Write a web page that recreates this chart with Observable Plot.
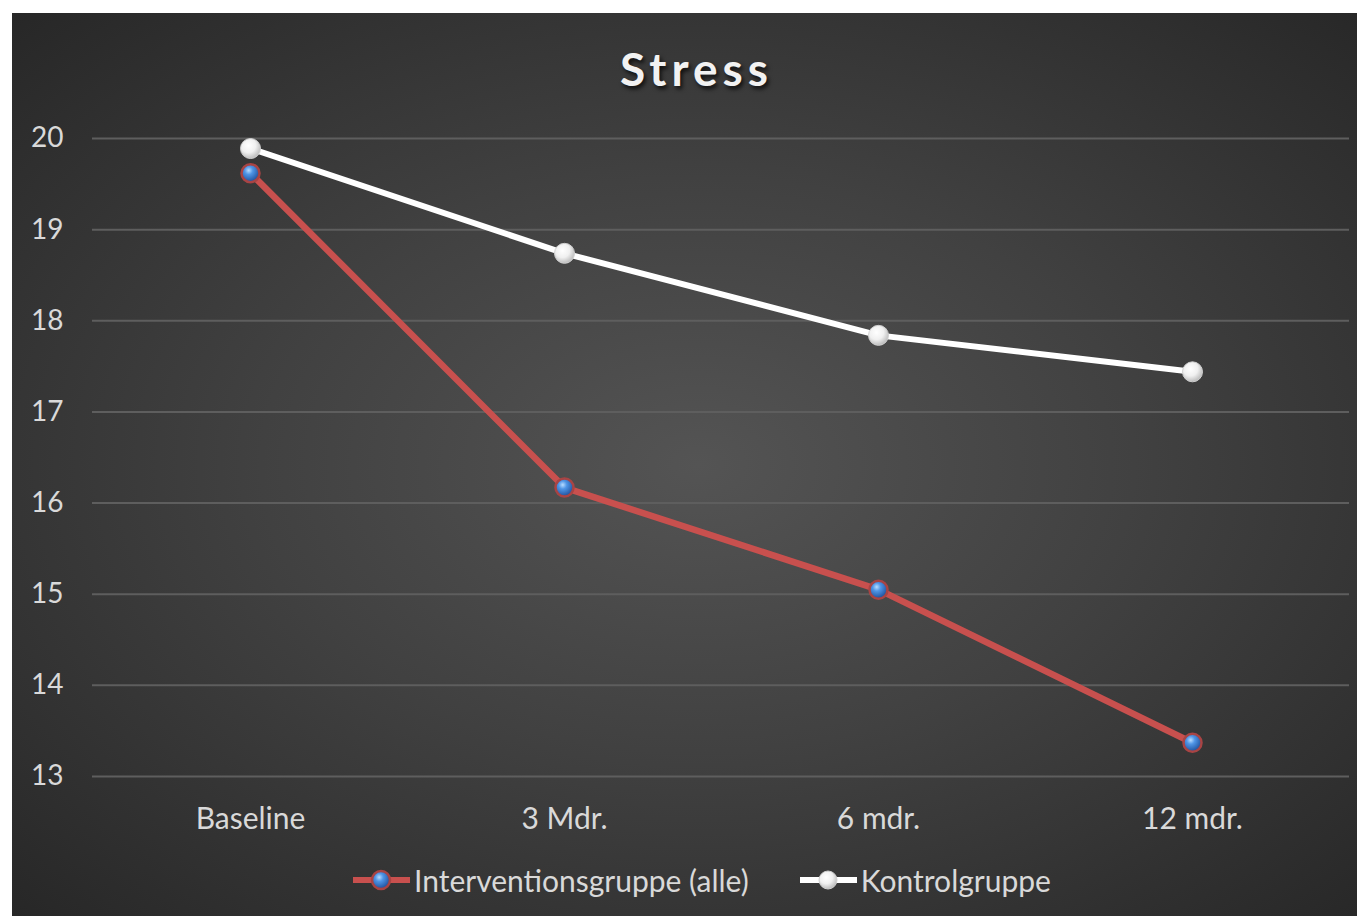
<!DOCTYPE html>
<html>
<head>
<meta charset="utf-8">
<script src="https://cdn.jsdelivr.net/npm/d3@7"></script>
<script src="https://cdn.jsdelivr.net/npm/@observablehq/plot@0.6"></script>
<style>
  html, body { margin: 0; padding: 0; background: #ffffff; }
  body { width: 1357px; height: 916px; position: relative; overflow: hidden; font-family: Lato, "Open Sans", sans-serif; }
  #card {
    position: absolute; left: 12px; top: 13px; width: 1345px; height: 903px; overflow: hidden;
    background: radial-gradient(ellipse farthest-corner at 51% 50%, #545454 0%, #414141 45%, #272727 100%);
  }
  #title {
    position: absolute; left: 12px; top: 0; width: 100%; height: 112px; line-height: 112px;
    text-align: center; font-family: Lato, sans-serif; font-weight: 700; font-size: 46px;
    letter-spacing: 5px; color: #f2f2f2; text-shadow: 2px 3px 4px rgba(0,0,0,0.75);
  }
  #chart { position: absolute; left: 0; top: 100px; }
  #legend {
    position: absolute; left: 340px; top: 848px; height: 38px; display: flex; align-items: center;
    font-family: Lato, sans-serif; font-size: 30px; color: #d9d9d9;
  }
  #legend .item { display: flex; align-items: center; margin-right: 50px; }
  #legend svg { display: block; margin-right: 2px; }
  #chart svg g[aria-label="x-axis tick label"] { font-size: 30px; }
  #chart svg g[aria-label="y-axis tick label"] { font-size: 28px; }
</style>
</head>
<body>
<div id="card">
  <div id="title">Stress</div>
  <div id="chart"></div>
  <div id="legend"></div>
</div>
<script>
const periods = ["Baseline", "3 Mdr.", "6 mdr.", "12 mdr."];
const intervention = [19.62, 16.17, 15.05, 13.37];
const kontrol = [19.89, 18.74, 17.84, 17.44];
const yTicks = [13, 14, 15, 16, 17, 18, 19, 20];
const seriesNames = ["Interventionsgruppe (alle)", "Kontrolgruppe"];

const interData = periods.map((p, i) => ({period: p, value: intervention[i]}));
const kontrolData = periods.map((p, i) => ({period: p, value: kontrol[i]}));

const redLine = "#c8504e";

const plot = Plot.plot({
  width: 1345,
  height: 735,
  marginTop: 25,
  marginBottom: 72,
  marginLeft: 80,
  marginRight: 8,
  style: {background: "transparent", color: "#d9d9d9", fontFamily: "Lato, sans-serif", fontSize: "28px"},
  x: {type: "point", domain: periods, padding: 0.5, label: null, tickSize: 0, tickPadding: 31},
  y: {domain: [13, 20], ticks: yTicks, label: null, tickSize: 0, tickPadding: 29, tickFormat: d => String(d)},
  marks: [
    Plot.gridY(yTicks, {stroke: "#5e5e5e", strokeOpacity: 1, strokeWidth: 2}),
    Plot.line(interData, {x: "period", y: "value", stroke: redLine, strokeWidth: 6.5, strokeLinecap: "round", strokeLinejoin: "round"}),
    Plot.line(kontrolData, {x: "period", y: "value", stroke: "#ffffff", strokeWidth: 6, strokeLinecap: "round", strokeLinejoin: "round"}),
    Plot.dot(interData, {x: "period", y: "value", r: 9, fill: "url(#gBlue)", stroke: "#a84444", strokeWidth: 2.5}),
    Plot.dot(kontrolData, {x: "period", y: "value", r: 10, fill: "url(#gWhite)", stroke: "#d0d0d0", strokeWidth: 1})
  ]
});

const defs = `
<defs>
  <radialGradient id="gBlue" cx="40%" cy="35%" r="65%">
    <stop offset="0%" stop-color="#b8dcff"/>
    <stop offset="35%" stop-color="#4f95e6"/>
    <stop offset="100%" stop-color="#1f4f9a"/>
  </radialGradient>
  <radialGradient id="gWhite" cx="40%" cy="35%" r="65%">
    <stop offset="0%" stop-color="#ffffff"/>
    <stop offset="55%" stop-color="#f0f0f0"/>
    <stop offset="100%" stop-color="#bdbdbd"/>
  </radialGradient>
</defs>`;
plot.insertAdjacentHTML("afterbegin", defs);
document.getElementById("chart").appendChild(plot);

// Legend
const legend = document.getElementById("legend");
const swatches = [
  {line: redLine, fill: "url(#gBlue)", stroke: "#a84444", sw: 2.5},
  {line: "#ffffff", fill: "url(#gWhite)", stroke: "#d0d0d0", sw: 1}
];
seriesNames.forEach((name, i) => {
  const item = document.createElement("div");
  item.className = "item";
  const s = swatches[i];
  item.innerHTML = `<svg width="60" height="26" viewBox="0 0 60 26">
      <line x1="1" x2="58" y1="13" y2="13" stroke="${s.line}" stroke-width="6"/>
      <circle cx="29" cy="13" r="9" fill="${s.fill}" stroke="${s.stroke}" stroke-width="${s.sw}"/>
    </svg><span>${name}</span>`;
  legend.appendChild(item);
});
</script>
</body>
</html>
